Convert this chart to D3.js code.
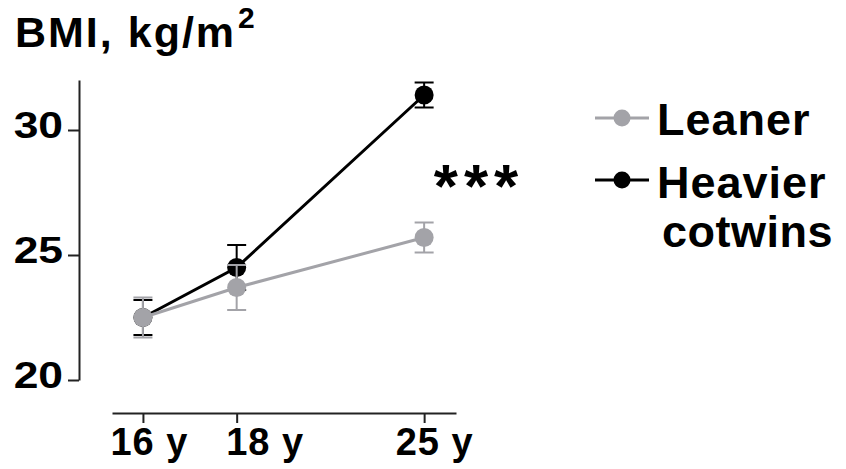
<!DOCTYPE html>
<html>
<head>
<meta charset="utf-8">
<script src="https://cdn.jsdelivr.net/npm/d3@7"></script>
<style>
  body { margin: 0; background: #fff; }
  text { font-family: "Liberation Sans", Arial, sans-serif; font-weight: bold; fill: #000; }
</style>
</head>
<body>
<svg id="chart" width="846" height="469"></svg>
<script>
// data
const ageLabels = ["16 y", "18 y", "25 y"];
const agePos = [0, 1, 3];
const leanerMean = [22.5, 23.7, 25.7];
const leanerLow = [21.7, 22.8, 25.1];
const leanerHigh = [23.3, 24.6, 26.3];
const heavierMean = [22.5, 24.5, 31.4];
const heavierLow = [21.8, 23.6, 30.9];
const heavierHigh = [23.2, 25.4, 31.9];
const yTicks = [20, 25, 30];
const seriesNames = ["Leaner", "Heavier", "cotwins"];

const gray = "#a3a3a8";
const svg = d3.select("#chart");

const x = d3.scaleLinear().domain([-0.33, 3.34]).range([112, 456]);
const y = d3.scaleLinear().domain([20, 32]).range([380, 80]);

// title
const title = svg.append("text").attr("x", 15).attr("y", 47)
  .style("font-size", "43px").style("letter-spacing", "2px");
title.append("tspan").text("BMI, kg/m");
title.append("tspan").attr("dx", 2).attr("dy", -19).style("font-size", "30px").style("letter-spacing", "0px").text("2");

// y axis
const yAxis = svg.append("g")
  .attr("transform", "translate(79,0)")
  .call(d3.axisLeft(y).tickValues(yTicks).tickSize(11).tickPadding(6).tickSizeOuter(0));
yAxis.select(".domain").attr("stroke", "#222").attr("stroke-width", 2);
yAxis.selectAll(".tick line").attr("stroke", "#222").attr("stroke-width", 2);
yAxis.selectAll(".tick text")
  .attr("x", -16 / 1.2)
  .attr("dy", "0.2em")
  .attr("transform", "scale(1.2,1)")
  .attr("font-family", null).attr("font-size", null)
  .style("font-size", "37px");

// x axis
const xAxis = svg.append("g")
  .attr("transform", "translate(0,413)")
  .call(d3.axisBottom(x).tickValues(agePos).tickSize(10).tickPadding(5).tickSizeOuter(0)
    .tickFormat((d, i) => ageLabels[i]));
xAxis.select(".domain").attr("stroke", "#222").attr("stroke-width", 2);
xAxis.selectAll(".tick line").attr("stroke", "#222").attr("stroke-width", 2);
xAxis.selectAll(".tick text")
  .attr("font-family", null).attr("font-size", null)
  .attr("dx", (d, i) => [6, 28, 10][i])
  .style("font-size", "38px").style("letter-spacing", "1px");

function drawSeries(mean, low, high, color) {
  const pts = agePos.map((p, i) => ({ p, m: mean[i], lo: low[i], hi: high[i] }));
  const g = svg.append("g");
  const line = d3.line().x(d => x(d.p)).y(d => y(d.m));
  g.append("path").datum(pts)
    .attr("d", line).attr("fill", "none")
    .attr("stroke", color).attr("stroke-width", 3);
  const eb = g.selectAll(".eb").data(pts).join("g");
  eb.append("line")
    .attr("x1", d => x(d.p)).attr("x2", d => x(d.p))
    .attr("y1", d => y(d.lo)).attr("y2", d => y(d.hi))
    .attr("stroke", color).attr("stroke-width", 2);
  eb.append("line")
    .attr("x1", d => x(d.p) - 9.5).attr("x2", d => x(d.p) + 9.5)
    .attr("y1", d => y(d.hi)).attr("y2", d => y(d.hi))
    .attr("stroke", color).attr("stroke-width", 2);
  eb.append("line")
    .attr("x1", d => x(d.p) - 9.5).attr("x2", d => x(d.p) + 9.5)
    .attr("y1", d => y(d.lo)).attr("y2", d => y(d.lo))
    .attr("stroke", color).attr("stroke-width", 2);
  g.selectAll("circle").data(pts).join("circle")
    .attr("cx", d => x(d.p)).attr("cy", d => y(d.m))
    .attr("r", 9.5).attr("fill", color);
}

drawSeries(heavierMean, heavierLow, heavierHigh, "#000");
drawSeries(leanerMean, leanerLow, leanerHigh, gray);

// significance
svg.append("text").attr("x", 479).attr("y", 207)
  .attr("text-anchor", "middle")
  .style("font-size", "62px").style("letter-spacing", "6px")
  .text("***");

// legend
const legend = svg.append("g");
const legendRows = [
  { color: gray, y: 118, label: seriesNames[0], ty: 135 },
  { color: "#000", y: 180, label: seriesNames[1], ty: 198 }
];
legendRows.forEach(r => {
  legend.append("line").attr("x1", 595).attr("x2", 649)
    .attr("y1", r.y).attr("y2", r.y)
    .attr("stroke", r.color).attr("stroke-width", 3);
  legend.append("circle").attr("cx", 622).attr("cy", r.y).attr("r", 8.5).attr("fill", r.color);
  legend.append("text").attr("x", 657).attr("y", r.ty)
    .style("font-size", "45px").style("letter-spacing", "1px").text(r.label);
});
legend.append("text").attr("x", 662).attr("y", 247)
  .style("font-size", "45px").style("letter-spacing", "0.5px").text(seriesNames[2]);
</script>
</body>
</html>
